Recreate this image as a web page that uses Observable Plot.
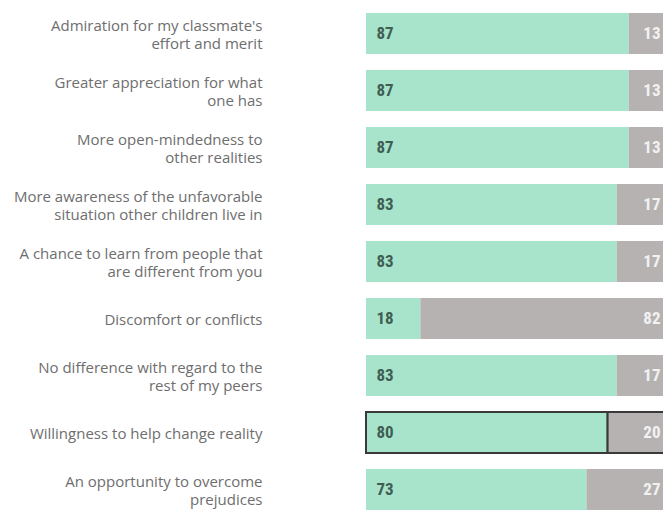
<!DOCTYPE html>
<html>
<head>
<meta charset="utf-8">
<script src="https://cdn.jsdelivr.net/npm/d3@7"></script>
<script src="https://cdn.jsdelivr.net/npm/@observablehq/plot@0.6"></script>
<style>
  html, body { margin: 0; padding: 0; background: #fff; overflow: hidden; }
  #chart svg { display: block; }
</style>
</head>
<body>
<div id="chart"></div>
<script>
const categories = [
  "Admiration for my classmate's\neffort and merit",
  "Greater appreciation for what\none has",
  "More open-mindedness to\nother realities",
  "More awareness of the unfavorable\nsituation other children live in",
  "A chance to learn from people that\nare different from you",
  "Discomfort or conflicts",
  "No difference with regard to the\nrest of my peers",
  "Willingness to help change reality",
  "An opportunity to overcome\nprejudices"
];
const yesValues = [87, 87, 87, 83, 83, 18, 83, 80, 73];
const noValues  = [13, 13, 13, 17, 17, 82, 17, 20, 27];
const highlighted = ["Willingness to help change reality"];

const rows = [];
categories.forEach((c, i) => {
  rows.push({category: c, answer: "yes", value: yesValues[i]});
  rows.push({category: c, answer: "no", value: noValues[i]});
});
const labelRows = categories.map((c, i) => ({category: c, yes: yesValues[i], no: noValues[i]}));
const numFont = "'Liberation Sans Narrow', 'Roboto Condensed', 'DejaVu Sans Condensed', sans-serif";

const chart = Plot.plot({
  width: 663,
  height: 513,
  marginLeft: 0,
  marginRight: 0,
  marginTop: 0,
  marginBottom: 0,
  style: {fontFamily: "'Open Sans', sans-serif", background: "#fff"},
  x: {domain: [0, 100], range: [366, 668], axis: null},
  y: {domain: categories, range: [12.4, 511.6], paddingInner: 0.28, paddingOuter: 0, axis: null},
  color: {domain: ["yes", "no"], range: ["#a8e3cc", "#b6b2b2"]},
  marks: [
    Plot.barX(rows, Plot.stackX({
      y: "category",
      x: "value",
      fill: "answer",
      order: ["yes", "no"],
      stroke: d => highlighted.includes(d.category) ? "#3a3a3a" : "none",
      strokeWidth: 2
    })),
    Plot.text(labelRows, {
      y: "category", x: 0, text: d => d.category,
      textAnchor: "end", dx: -104, fontSize: 15, fill: "#6e6e6e", lineHeight: 1.24
    }),
    Plot.text(labelRows, {
      y: "category", x: 0, text: d => String(d.yes),
      textAnchor: "start", dx: 10, fontSize: 17, fontWeight: "bold", fill: "#3f5e52",
      fontFamily: numFont
    }),
    Plot.text(labelRows, {
      y: "category", x: 100, text: d => String(d.no),
      textAnchor: "end", dx: -8, fontSize: 17, fontWeight: "bold", fill: "#f2f2f2",
      fontFamily: numFont
    })
  ]
});
document.getElementById("chart").appendChild(chart);
</script>
</body>
</html>
